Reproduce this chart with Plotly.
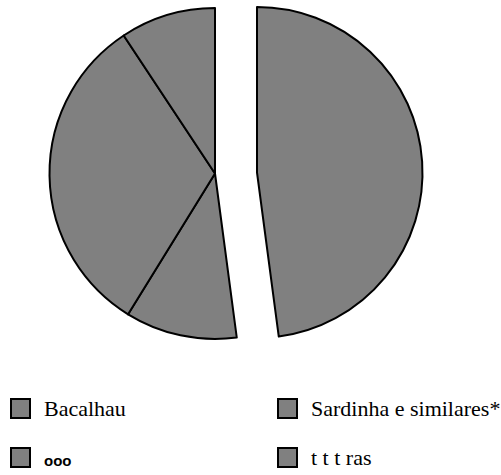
import plotly.graph_objects as go

# Share of each fish category (percent), clockwise from 12 o'clock
categories = ["Bacalhau", "Sardinha e similares*", "ooo", "t t t ras"]
values = [47.9, 10.9, 31.9, 9.3]
exploded = "Bacalhau"

W, H = 501, 475
FILL = "#808080"
EDGE = "black"
CLEAR = "rgba(0,0,0,0)"
SERIF = "Liberation Serif"

# pie placement in pixels
cx, cy, r = 215, 173.5, 165.5
pull_dx, pull_dy = 42, -1

# key grid (pixels): column left edges, row centres, swatch size
key_cols = [11, 278]
key_rows = [408.5, 457.5]
swatch = 19
text_gap = 12


def domain(cx_px, cy_px, rad):
    return dict(
        x=[(cx_px - rad) / W, (cx_px + rad) / W],
        y=[1 - (cy_px + rad) / H, 1 - (cy_px - rad) / H],
    )


fig = go.Figure()

# body of the pie: every slice except the exploded one
fig.add_trace(go.Pie(
    labels=categories, values=values, sort=False, direction="clockwise",
    rotation=0, textinfo="none", showlegend=False,
    domain=domain(cx, cy, r),
    marker=dict(
        colors=[CLEAR if c == exploded else FILL for c in categories],
        line=dict(color=EDGE,
                  width=[0 if c == exploded else 2 for c in categories]),
    ),
))

# exploded slice, offset to the right
fig.add_trace(go.Pie(
    labels=categories, values=values, sort=False, direction="clockwise",
    rotation=0, textinfo="none", showlegend=False,
    domain=domain(cx + pull_dx, cy + pull_dy, r),
    marker=dict(
        colors=[FILL if c == exploded else CLEAR for c in categories],
        line=dict(color=EDGE,
                  width=[2 if c == exploded else 0 for c in categories]),
    ),
))

# key: 2x2 grid of swatches with labels
for i, name in enumerate(categories):
    x0 = key_cols[i % 2]
    yc = key_rows[i // 2]
    fig.add_shape(
        type="rect", xref="paper", yref="paper",
        x0=x0 / W, x1=(x0 + swatch) / W,
        y0=1 - (yc + swatch / 2) / H, y1=1 - (yc - swatch / 2) / H,
        fillcolor=FILL, line=dict(color=EDGE, width=2),
    )
    if name == "ooo":
        text, font = f"<b>{name}</b>", dict(family="Liberation Sans", size=15, color="black")
        ty = yc + 3
    else:
        text, font = name, dict(family=SERIF, size=22, color="black")
        ty = yc
    fig.add_annotation(
        x=(x0 + swatch + text_gap) / W, y=1 - ty / H,
        xref="paper", yref="paper", xanchor="left", yanchor="middle",
        text=text, font=font, showarrow=False,
    )

fig.update_layout(
    width=W, height=H,
    margin=dict(l=0, r=0, t=0, b=0),
    paper_bgcolor="white", plot_bgcolor="white",
    showlegend=False,
)

fig.write_html("out.html")
